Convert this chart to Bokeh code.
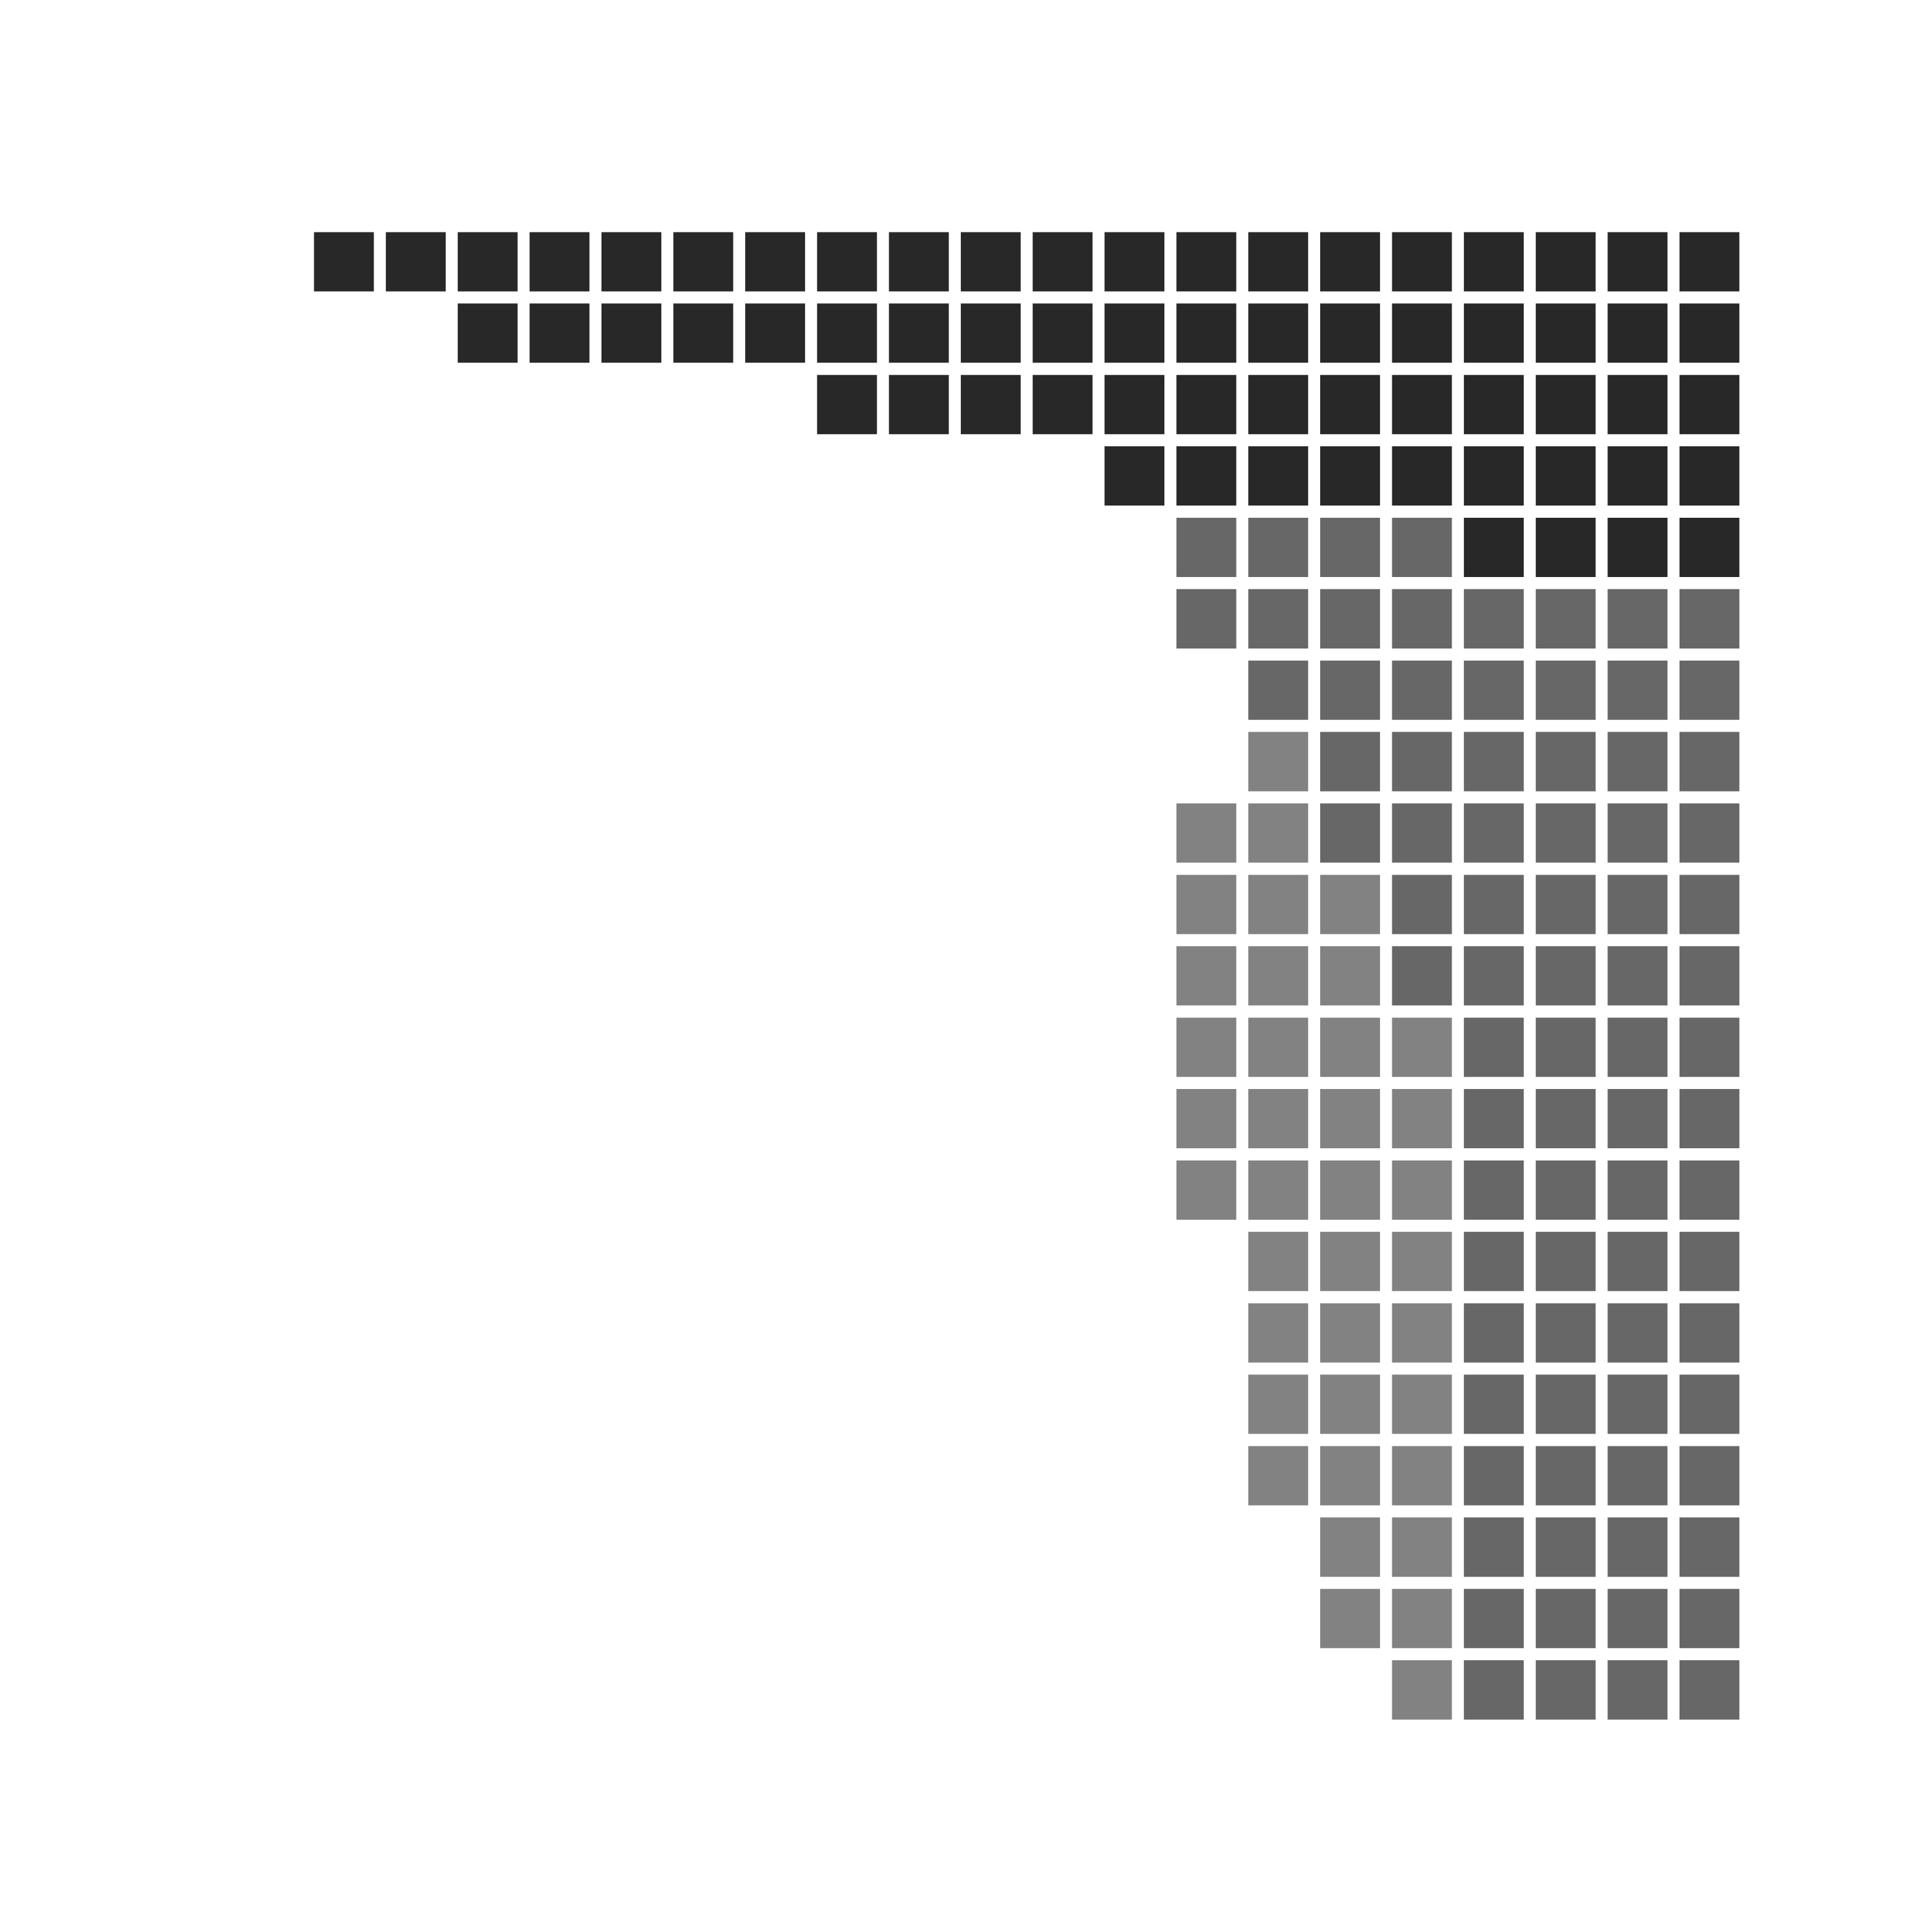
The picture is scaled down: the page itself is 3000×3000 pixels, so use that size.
from bokeh.plotting import figure
from bokeh.models import Range1d, ColumnDataSource
from bokeh.embed import file_html
from bokeh.resources import INLINE

# Units per row (top to bottom), right-aligned: dark rightmost, then mid, then light
rows = list(range(21))
dark_counts = [20, 18, 13, 9, 4, 0, 0, 0, 0, 0, 0, 0, 0, 0, 0, 0, 0, 0, 0, 0, 0]
mid_counts = [0, 0, 0, 0, 4, 8, 7, 6, 6, 5, 5, 4, 4, 4, 4, 4, 4, 4, 4, 4, 4]
light_counts = [0, 0, 0, 0, 0, 0, 0, 1, 2, 3, 3, 4, 4, 4, 3, 3, 3, 3, 2, 2, 1]
n_cols = 20

colors = {"dark": "#282828", "mid": "#676767", "light": "#828282"}

xs, ys, cs = [], [], []
for r, d, m, l in zip(rows, dark_counts, mid_counts, light_counts):
    col = n_cols - 1
    for cat, n in (("dark", d), ("mid", m), ("light", l)):
        for _ in range(n):
            xs.append(col)
            ys.append(r)
            cs.append(colors[cat])
            col -= 1

src = ColumnDataSource(dict(x=xs, y=ys, c=cs))

p = figure(width=2984, height=2984, output_backend="svg", toolbar_location=None,
           x_axis_location=None, y_axis_location=None, min_border=0,
           x_range=Range1d(-4.781, 21.958), y_range=Range1d(23.25, -3.661))
p.outline_line_color = None
p.grid.visible = False
p.background_fill_color = "white"
p.border_fill_color = "white"
p.rect(x="x", y="y", width=0.833, height=0.830, source=src,
       fill_color="c", line_color=None)

open("out.html", "w").write(file_html(p, INLINE))
